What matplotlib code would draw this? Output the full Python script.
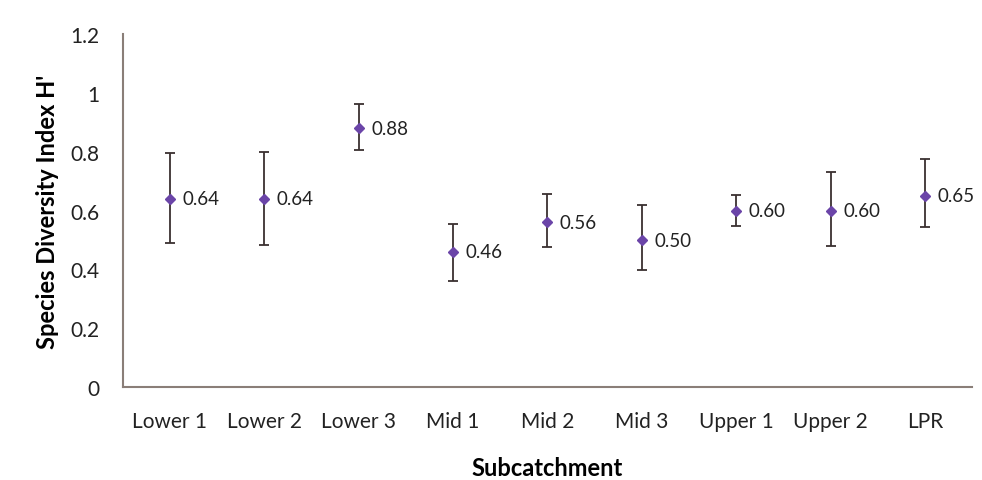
import matplotlib
matplotlib.use("Agg")
import matplotlib.pyplot as plt

# subcatchments and Shannon diversity (mean, error bar ends)
sites = ["Lower 1", "Lower 2", "Lower 3", "Mid 1", "Mid 2", "Mid 3", "Upper 1", "Upper 2", "LPR"]
h_mean = [0.64, 0.64, 0.88, 0.46, 0.56, 0.50, 0.60, 0.60, 0.65]
h_upper = [0.797, 0.80, 0.964, 0.555, 0.656, 0.62, 0.654, 0.732, 0.776]
h_lower = [0.489, 0.483, 0.806, 0.36, 0.478, 0.398, 0.548, 0.48, 0.543]

plt.rcParams['font.family'] = ['Lato', 'DejaVu Sans']

fig = plt.figure(figsize=(9.82, 4.81), dpi=100)
ax = fig.add_axes([0.125, 0.193, 0.865, 0.734])

x = list(range(len(sites)))
err_lo = [m - l for m, l in zip(h_mean, h_lower)]
err_hi = [u - m for m, u in zip(h_mean, h_upper)]
ax.errorbar(x, h_mean, yerr=[err_lo, err_hi], fmt='D', ms=5.5,
            color='#6b45a8', ecolor='#3a3030', elinewidth=1.3, capsize=3.5, capthick=1.3)

for xi, m in zip(x, h_mean):
    ax.annotate(f"{m:.2f}", (xi, m), xytext=(9, 0), textcoords='offset points',
                va='center', ha='left', fontsize=13.5, color='#222222')

ax.set_xlim(-0.5, len(sites) - 0.5)
ax.set_ylim(0, 1.2)
ax.set_yticks([0, 0.2, 0.4, 0.6, 0.8, 1.0, 1.2])
ax.set_yticklabels(["0", "0.2", "0.4", "0.6", "0.8", "1", "1.2"])
ax.set_xticks(x)
ax.set_xticklabels(sites)
ax.tick_params(length=0, labelsize=15, colors='#222222')
ax.tick_params(axis='y', pad=17)
ax.tick_params(axis='x', pad=17)

for s in ['top', 'right']:
    ax.spines[s].set_visible(False)
for s in ['left', 'bottom']:
    ax.spines[s].set_color('#8a7e78')
    ax.spines[s].set_linewidth(1.5)

ax.set_xlabel("Subcatchment", fontsize=17, fontweight='bold', labelpad=18)
ax.set_ylabel("Species Diversity Index H'", fontsize=17, fontweight='bold', labelpad=8)

fig.savefig("out.png", dpi=100)
